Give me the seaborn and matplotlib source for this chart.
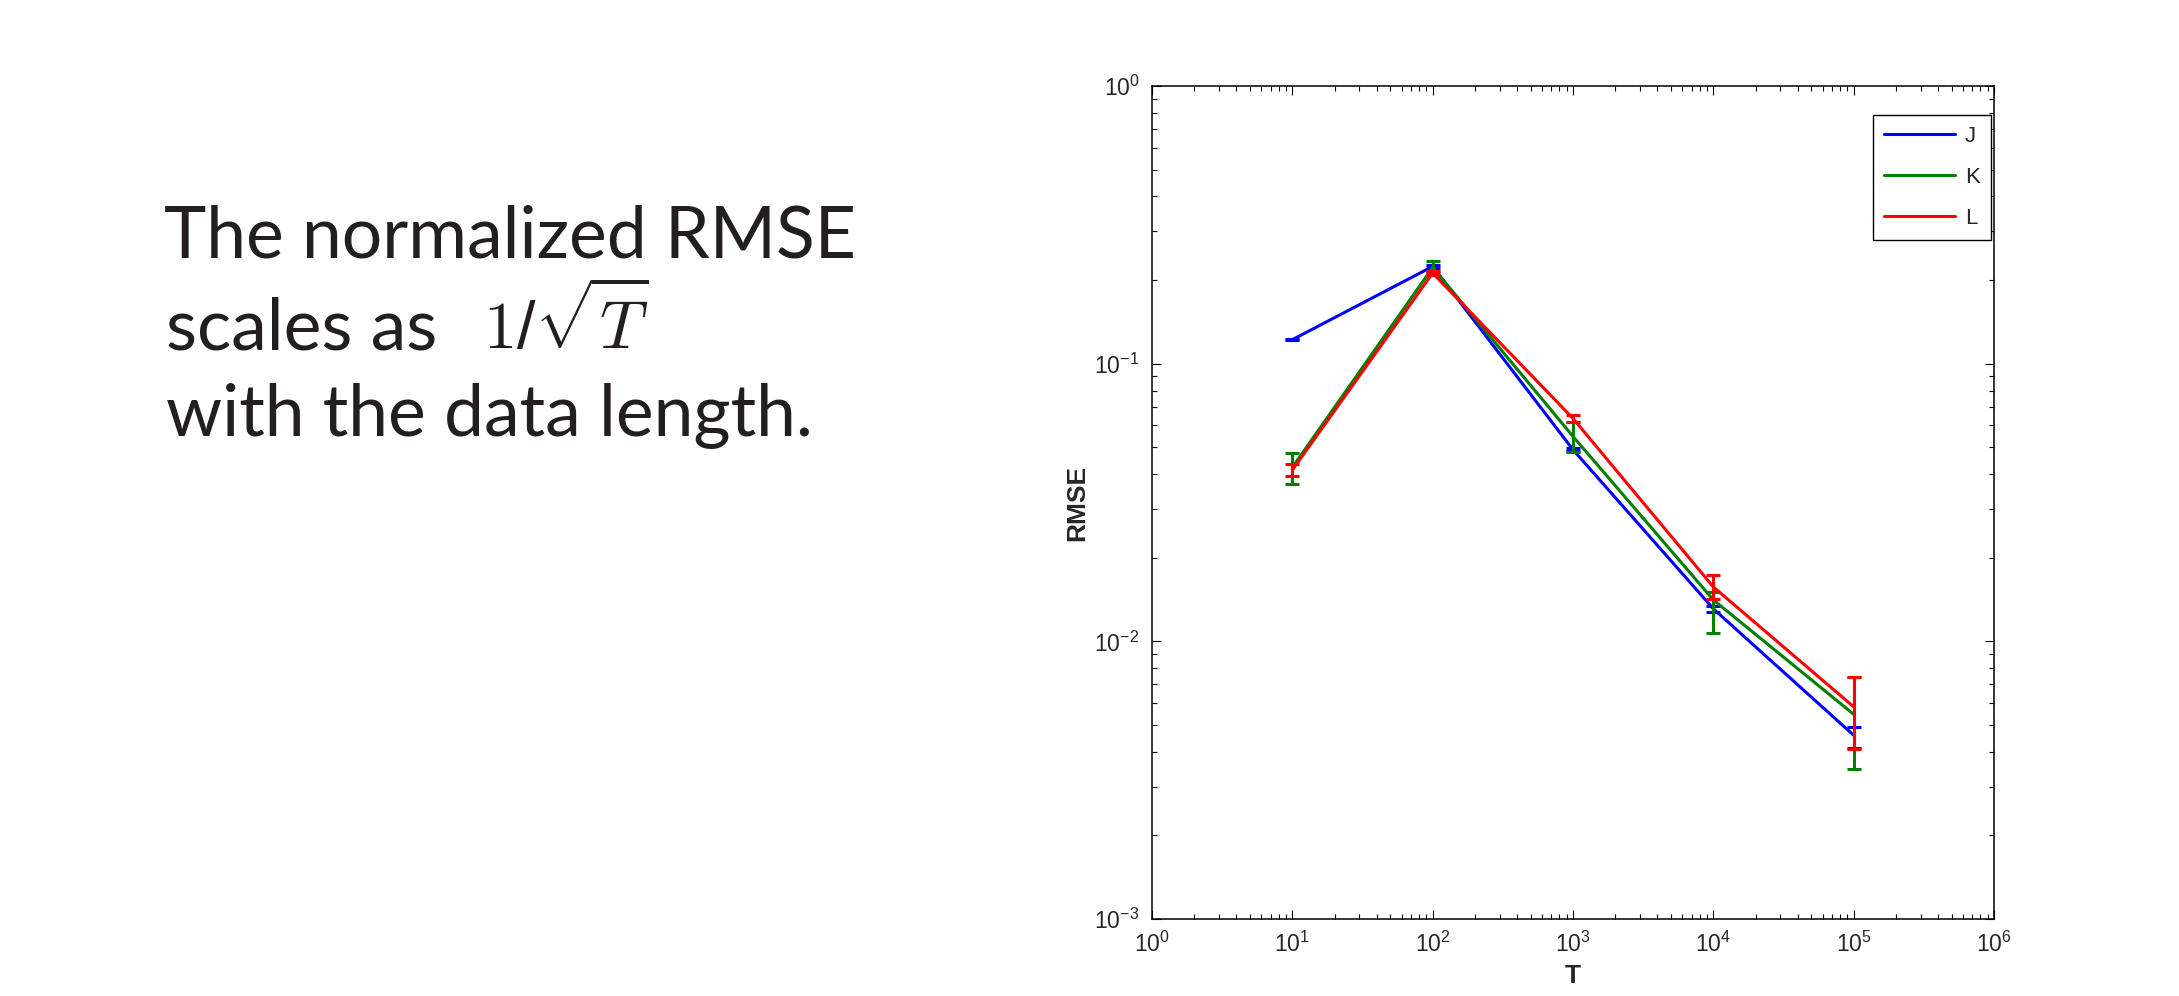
import numpy as np
import pandas as pd
import matplotlib
matplotlib.use("Agg")
import matplotlib.pyplot as plt
from matplotlib.ticker import LogLocator, NullFormatter
import seaborn as sns

sns.set_style("ticks")
plt.rcParams['font.family'] = ['Liberation Sans', 'DejaVu Sans']
plt.rcParams['mathtext.default'] = 'regular'

# data
T = [10, 100, 1000, 10000, 100000]
methods = ["J", "K", "L"]
colors = {"J": "#0000ff", "K": "#008000", "L": "#ff0000"}

rmse_J = [0.122, 0.224, 0.0490, 0.0131, 0.00459]
low_J = [0.1212, 0.2210, 0.0484, 0.01277, 0.00414]
high_J = [0.1228, 0.2270, 0.0495, 0.01339, 0.00491]

rmse_K = [0.0423, 0.222, 0.0547, 0.0141, 0.00546]
low_K = [0.0368, 0.2140, 0.0481, 0.0107, 0.00347]
high_K = [0.0475, 0.2340, 0.0616, 0.0150, 0.00741]

rmse_L = [0.0414, 0.212, 0.0635, 0.0157, 0.00581]
low_L = [0.0395, 0.2090, 0.0615, 0.01426, 0.00408]
high_L = [0.0434, 0.2150, 0.0655, 0.01733, 0.00741]

rmse = {"J": rmse_J, "K": rmse_K, "L": rmse_L}
low = {"J": low_J, "K": low_K, "L": low_L}
high = {"J": high_J, "K": high_K, "L": high_L}

df = pd.concat([pd.DataFrame({"T": T, "RMSE": rmse[m], "lo": low[m], "hi": high[m], "method": m})
                for m in methods], ignore_index=True)

W, H = 2179, 996
fig = plt.figure(figsize=(W / 100, H / 100), dpi=100)
ax = fig.add_axes([1152 / W, 1 - 919 / H, 842 / W, 833 / H])
ax.set_xscale("log")
ax.set_yscale("log")

for m in methods:
    sub = df[df["method"] == m]
    sns.lineplot(data=sub, x="T", y="RMSE", color=colors[m], lw=2.2, label=m, ax=ax, errorbar=None)
    ax.errorbar(sub["T"], sub["RMSE"],
                yerr=[sub["RMSE"] - sub["lo"], sub["hi"] - sub["RMSE"]],
                fmt="none", ecolor=colors[m], elinewidth=2.2, capsize=5, capthick=2.2)

ax.set_xlim(1, 1e6)
ax.set_ylim(1e-3, 1)
for axis in [ax.xaxis, ax.yaxis]:
    axis.set_major_locator(LogLocator(base=10, numticks=20))
    axis.set_minor_locator(LogLocator(base=10, subs=np.arange(2, 10), numticks=20))
    axis.set_minor_formatter(NullFormatter())

ax.tick_params(which="both", direction="in", top=True, right=True, width=0.8, color="black")
ax.tick_params(which="major", length=6.5, labelsize=16.5, pad=9)
ax.tick_params(which="minor", length=3.6)
for sp in ax.spines.values():
    sp.set_linewidth(1.1)
    sp.set_color("black")

ax.set_xlabel("T", fontsize=19, fontweight="bold", labelpad=5)
ax.set_ylabel("RMSE", fontsize=19, fontweight="bold", labelpad=4)

leg = ax.legend(loc="upper right", bbox_to_anchor=(1991 / W, 1 - 115 / H), bbox_transform=fig.transFigure,
                borderaxespad=0, fancybox=False, edgecolor="black", framealpha=1, fontsize=16,
                handlelength=3.2, handletextpad=0.45, labelspacing=0.9, borderpad=0.5)
leg.get_frame().set_linewidth(1.0)

# slide text on the left
txt = dict(family=["Lato", "DejaVu Sans"], fontsize=51.5, color="#231f20", va="baseline")
fig.text(164 / W, 1 - 258 / H, "The normalized RMSE", **txt)
fig.text(166 / W, 1 - 350 / H, "scales as", **txt)
fig.text(483 / W, 1 - 348 / H, r"$\mathrm{1}/\sqrt{\mathit{T}}$", fontsize=48, color="#231f20",
         va="baseline", math_fontfamily="cm")
fig.text(166 / W, 1 - 436 / H, "with the data length.", **txt)

fig.savefig("out.png", dpi=100)
